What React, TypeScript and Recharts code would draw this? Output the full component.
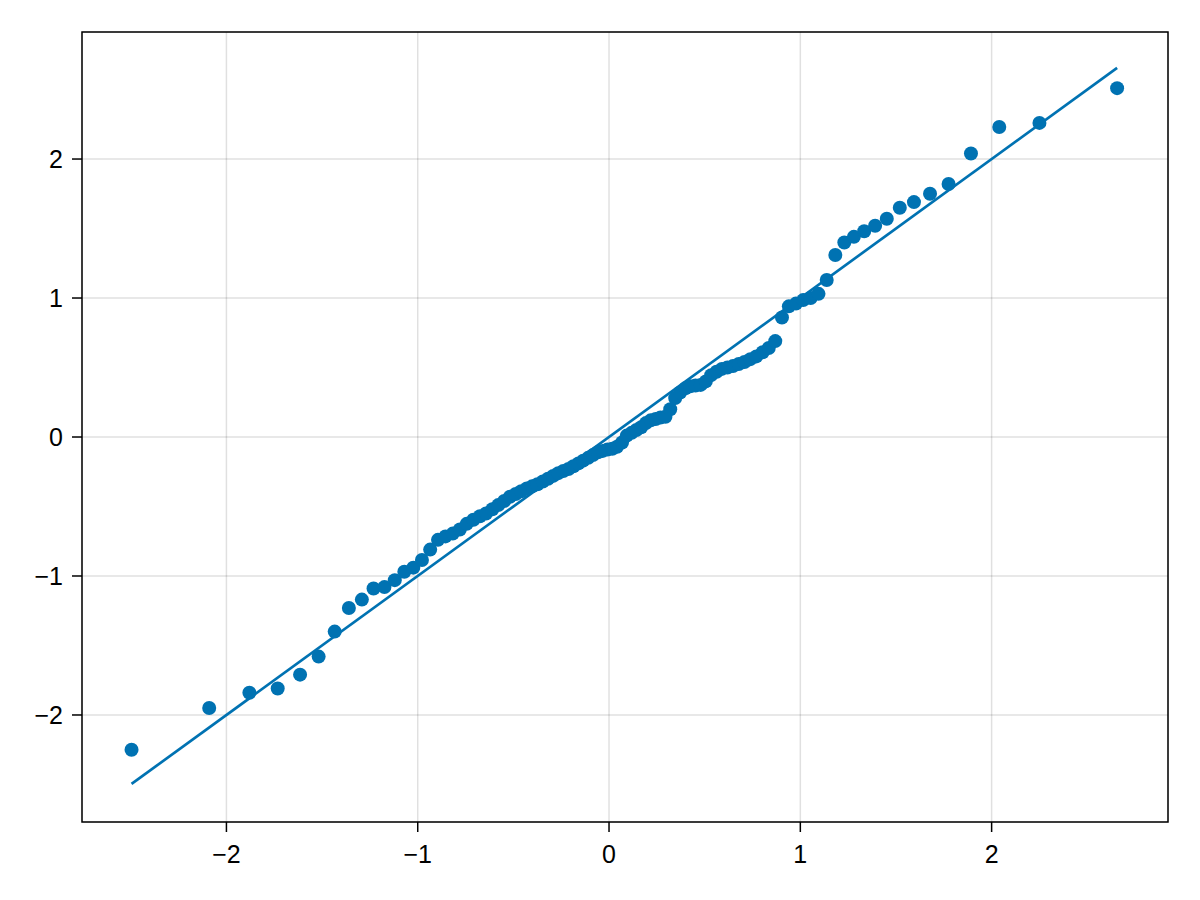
import React from 'react';
import {
    ComposedChart,
    Scatter,
    Line,
    XAxis,
    YAxis,
    CartesianGrid,
    ReferenceArea,
} from 'recharts';

// theoretical quantiles (x) and sample quantiles (y)
const qx = [
    -2.496, -2.090, -1.880, -1.732, -1.615, -1.518, -1.434, -1.360, -1.292, -1.231,
    -1.174, -1.120, -1.070, -1.023, -0.978, -0.935, -0.894, -0.855, -0.817, -0.780,
    -0.744, -0.709, -0.675, -0.643, -0.610, -0.579, -0.548, -0.518, -0.488, -0.459,
    -0.430, -0.402, -0.374, -0.346, -0.319, -0.292, -0.265, -0.239, -0.212, -0.186,
    -0.160, -0.135, -0.109, -0.084, -0.058, -0.033, -0.008, 0.017, 0.042, 0.068,
    0.093, 0.118, 0.143, 0.168, 0.193, 0.218, 0.244, 0.269, 0.295, 0.320,
    0.346, 0.372, 0.399, 0.425, 0.452, 0.479, 0.506, 0.534, 0.562, 0.590,
    0.619, 0.648, 0.678, 0.708, 0.739, 0.770, 0.803, 0.835, 0.869, 0.904,
    0.940, 0.977, 1.015, 1.054, 1.095, 1.138, 1.183, 1.230, 1.280, 1.334,
    1.391, 1.452, 1.520, 1.594, 1.678, 1.775, 1.892, 2.040, 2.250, 2.656,
];

const qy = [
    -2.25, -1.95, -1.84, -1.81, -1.71, -1.58, -1.40, -1.23, -1.17, -1.09,
    -1.08, -1.03, -0.97, -0.94, -0.885, -0.81, -0.74, -0.715, -0.695, -0.665,
    -0.625, -0.595, -0.57, -0.55, -0.52, -0.49, -0.46, -0.43, -0.41, -0.39,
    -0.37, -0.355, -0.34, -0.32, -0.30, -0.28, -0.26, -0.245, -0.23, -0.21,
    -0.19, -0.17, -0.15, -0.13, -0.11, -0.10, -0.09, -0.085, -0.07, -0.04,
    0.01, 0.03, 0.05, 0.07, 0.10, 0.12, 0.13, 0.14, 0.145, 0.20,
    0.28, 0.32, 0.35, 0.365, 0.37, 0.375, 0.40, 0.445, 0.47, 0.49,
    0.50, 0.51, 0.525, 0.54, 0.56, 0.58, 0.61, 0.64, 0.69, 0.86,
    0.94, 0.96, 0.985, 1.00, 1.03, 1.13, 1.31, 1.40, 1.44, 1.48,
    1.52, 1.57, 1.65, 1.69, 1.75, 1.82, 2.04, 2.23, 2.26, 2.51,
];

// identity reference line end points
const lineX = [-2.496, 2.656];
const lineY = [-2.496, 2.656];

const xTicks = [-2, -1, 0, 1, 2];
const yTicks = [-2, -1, 0, 1, 2];

const X_DOMAIN: [number, number] = [-2.755, 2.922];
const Y_DOMAIN: [number, number] = [-2.77, 2.914];

const BLUE = '#0072B2';
const FONT = '"Liberation Sans", Arial, sans-serif';

const points = qx.map((x, i) => ({ x, y: qy[i] }));
const lineData = lineX.map((x, i) => ({ x, y: lineY[i] }));

const fmt = (v: number) => String(v).replace('-', '\u2212');

const Dot = (props: any) => {
    const { cx, cy } = props;
    if (cx == null || cy == null) return null;
    return <circle cx={cx} cy={cy} r={7} fill={BLUE} />;
};

export default function App() {
    return (
        <div style={{ width: 1180, height: 880, background: '#fff' }}>
            <ComposedChart
                width={1180}
                height={880}
                margin={{ top: 24, right: 20, bottom: 16, left: 0 }}
            >
                <CartesianGrid stroke="rgba(0,0,0,0.12)" strokeWidth={1.5} vertical horizontal />
                <XAxis
                    type="number"
                    dataKey="x"
                    domain={X_DOMAIN}
                    ticks={xTicks}
                    allowDataOverflow
                    tickFormatter={fmt}
                    tick={{ fill: '#000', fontSize: 25, fontFamily: FONT }}
                    tickLine={{ stroke: '#000', strokeWidth: 1.5 }}
                    axisLine={false}
                    tickSize={10}
                    tickMargin={13}
                    height={50}
                />
                <YAxis
                    type="number"
                    dataKey="y"
                    domain={Y_DOMAIN}
                    ticks={yTicks}
                    allowDataOverflow
                    tickFormatter={fmt}
                    tick={{ fill: '#000', fontSize: 25, fontFamily: FONT }}
                    tickLine={{ stroke: '#000', strokeWidth: 1.5 }}
                    axisLine={false}
                    tickSize={10}
                    tickMargin={9}
                    width={74}
                />
                <ReferenceArea
                    x1={X_DOMAIN[0]}
                    x2={X_DOMAIN[1]}
                    y1={Y_DOMAIN[0]}
                    y2={Y_DOMAIN[1]}
                    fill="none"
                    stroke="#000"
                    strokeWidth={1.5}
                    ifOverflow="visible"
                />
                <Scatter data={points} dataKey="y" shape={<Dot />} isAnimationActive={false} />
                <Line
                    data={lineData}
                    dataKey="y"
                    type="linear"
                    stroke={BLUE}
                    strokeWidth={2.7}
                    dot={false}
                    activeDot={false}
                    isAnimationActive={false}
                />
            </ComposedChart>
        </div>
    );
}
